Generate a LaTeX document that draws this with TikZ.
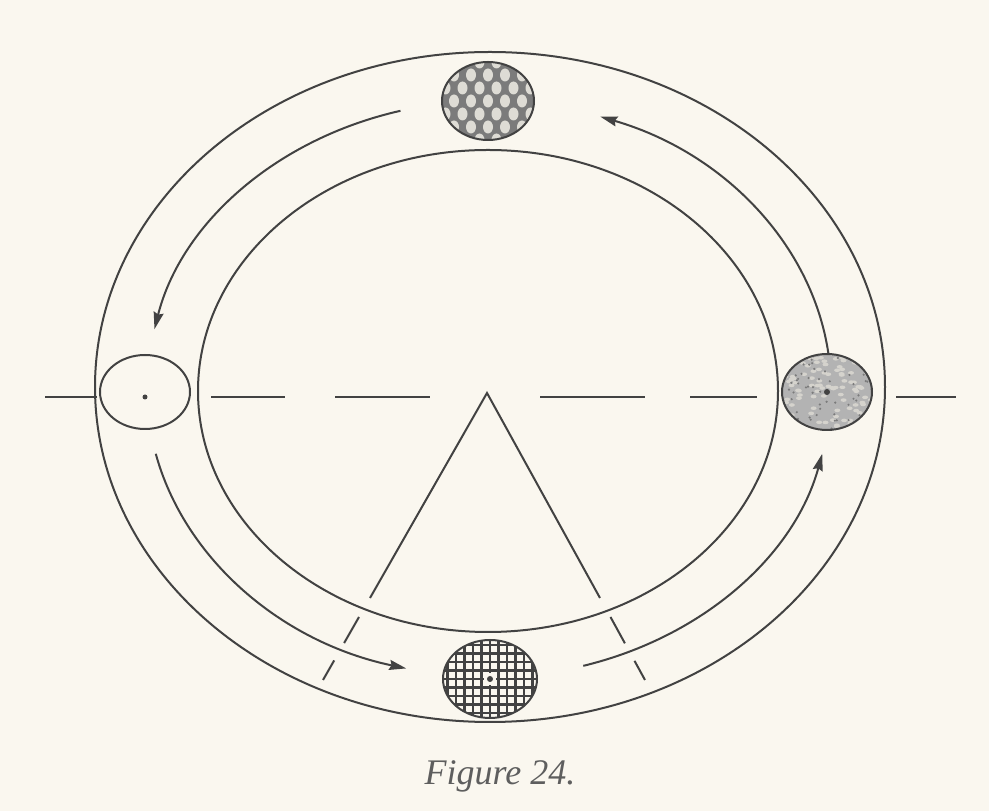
\documentclass[tikz,border=0pt]{standalone}
\usepackage{fontspec}
\setmainfont{Liberation Serif}
\usetikzlibrary{arrows.meta,shapes.geometric}

\definecolor{ink}{RGB}{66,66,66}
\definecolor{paper}{RGB}{250,247,239}

\begin{document}
\begin{tikzpicture}[x=1pt, y=1pt,
  ring/.style={ink, line width=2pt},
  axis/.style={ink, line width=2pt},
  flow/.style={ink, line width=2pt, -{Stealth[length=17pt,width=10pt,inset=2pt]}},
  ball/.style={ellipse, draw=ink, line width=2pt, inner sep=0pt,
    minimum width=92pt, minimum height=78pt},
  net/.style={ball, fill=ink!70, path picture={
    \foreach \r in {-3,...,3}
      \foreach \c in {-4,...,3}
        \fill[paper!85!ink] ([shift={({\c*17+mod(abs(\r),2)*8.5},{\r*13})}]path picture bounding box.center)
          ellipse [x radius=5, y radius=6.5];
  }},
  grid/.style={ball, fill=paper, path picture={
    \foreach \k in {-5,...,5} {
      \draw[ink, line width=2.6pt] ([shift={(\k*8.5,-50)}]path picture bounding box.center) -- ++(0,100);
      \draw[ink, line width=2.6pt] ([shift={(-50,\k*8.5)}]path picture bounding box.center) -- ++(100,0);
    }
    \fill[paper] (path picture bounding box.center) circle (6);
    \fill[ink] (path picture bounding box.center) circle (3);
  }},
  speck/.style={ball, fill=ink!40, path picture={
    \pgfmathsetseed{24}
    \foreach \i in {1,...,110} {
      \pgfmathsetmacro\px{46*rand}
      \pgfmathsetmacro\py{40*rand}
      \fill[paper!80!ink] ([shift={(\px,\py)}]path picture bounding box.center)
        ellipse [x radius=3, y radius=1.8];
    }
    \foreach \i in {1,...,70} {
      \pgfmathsetmacro\px{46*rand}
      \pgfmathsetmacro\py{40*rand}
      \fill[ink!70] ([shift={(\px,\py)}]path picture bounding box.center) circle (1.2);
    }
    \fill[ink] (path picture bounding box.center) circle (3);
  }}
]
  \fill[paper] (0,0) rectangle (989,811);
  \useasboundingbox (0,0) rectangle (989,811);

  % the two rings
  \draw[ring] (490,424) ellipse [x radius=395, y radius=335];
  \draw[ring] (488,420) ellipse [x radius=290, y radius=241];

  % horizontal axis
  \foreach \a/\b in {45/97, 211/285, 335/430, 540/645, 690/757, 896/956}
    \draw[axis] (\a,414) -- (\b,414);

  % angle from the centre
  \coordinate (apex) at (487,418);
  \coordinate (lfoot) at (370,213);
  \coordinate (rfoot) at (600,213);
  \draw[axis] (lfoot) -- (apex) -- (rfoot);
  \draw[axis, dash pattern=on 30pt off 20pt] (359,194) -- (323,131);
  \draw[axis, dash pattern=on 30pt off 20pt] (610.5,194) -- (645,131);

  % the four bodies
  \node[net] (topball) at (488,710) {};
  \node[grid, minimum width=94pt] (botball) at (490,132) {};
  \node[speck, minimum width=90pt, minimum height=76pt] (rball) at (827,419) {};
  \node[ball, fill=paper, minimum width=90pt, minimum height=74pt] (lball) at (145,419) {};
  \fill[ink] ([yshift=-5pt]lball.center) circle (2.5);

  % motion along the track
  \foreach \a/\b in {105/168, 7/71, 193/256, 286/347}
    \draw[flow] ([shift={(\a:342 and 288)}]489,422)
      arc [start angle=\a, end angle=\b, x radius=342, y radius=288];

  \node[text=ink!85, font=\fontsize{36}{40}\selectfont\itshape, anchor=base] (caption) at (500,26) {Figure 24.};
\end{tikzpicture}
\end{document}
